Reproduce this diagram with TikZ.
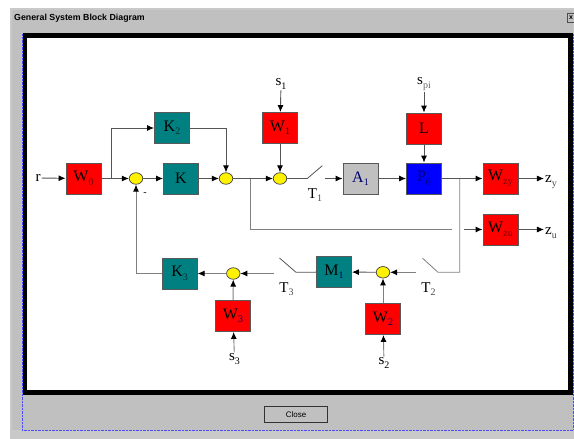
\documentclass[tikz,border=0pt]{standalone}
\usepackage{fontspec}
\setmainfont{Liberation Serif}
\newfontfamily\uifont{Liberation Sans}
\usetikzlibrary{arrows.meta,shapes.geometric}
\definecolor{wingray}{HTML}{C0C0C0}
\definecolor{tealbox}{HTML}{008080}
\definecolor{wirecol}{HTML}{555555}
\definecolor{navytxt}{HTML}{000070}
\definecolor{darkred}{HTML}{700000}
\newcommand{\mklb}[3][black]{{#2\raisebox{-3.5pt}{\fontsize{10}{10}\selectfont\textcolor{#1}{#3}}}}
\tikzset{
	block/.style={draw=black!65, line width=0.9pt, minimum width=35pt, minimum height=31pt, inner sep=0pt, font=\fontsize{16}{16}\selectfont},
	redblock/.style={block, fill=red},
	tealblock/.style={block, fill=tealbox},
	greyblock/.style={block, fill=wingray, text=navytxt},
	blueblock/.style={block, fill=blue, text=navytxt},
	sumnode/.style={ellipse, draw=black!75, fill=yellow, line width=0.7pt, minimum width=13.5pt, minimum height=11.5pt, inner sep=0pt},
	siglabel/.style={inner sep=1pt, font=\fontsize{15}{15}\selectfont},
	wire/.style={draw=wirecol, line width=0.9pt},
	sig/.style={wire, -{Latex[length=7pt,width=6pt,black]}},
	swarm/.style={wire, line width=0.8pt}
}
\begin{document}
\begin{tikzpicture}[x=1pt, y=-1pt]
\useasboundingbox (0,0) rectangle (574,439);
% okno
\fill[wingray!85!white] (10,8) rectangle (574,439);
\fill[wingray] (12,10) rectangle (572.5,430);
\draw[blue!70, densely dotted, line width=0.4pt] (22,34) -- (22,430) -- (573,430) -- (573,34);
\node[anchor=west, inner sep=0pt, font=\uifont\bfseries\fontsize{8.8}{9}\selectfont] (title) at (14,18) {General System Block Diagram};
\node[draw=black!70, fill=wingray, line width=0.8pt, minimum width=8pt, minimum height=9pt, inner sep=0pt, font=\uifont\bfseries\fontsize{7}{7}\selectfont] (closex) at (571,17.5) {x};
\draw[black, line width=4.6pt, fill=white] (25,35.5) rectangle (570.5,392.5);
\node[draw=black!80, fill=wingray, line width=1.2pt, minimum width=63pt, minimum height=16pt, inner sep=0pt, font=\uifont\fontsize{8}{8}\selectfont] (close) at (296,414.5) {Close};
% bloki
\node[redblock] (W0) at (83.5,178.5) {\mklb[darkred]{W}{0}};
\node[tealblock] (K2) at (172,128) {\mklb[black!60!tealbox]{K}{2}};
\node[tealblock] (K) at (181,178.5) {K};
\node[redblock] (W1) at (280,128) {\mklb{W}{1}};
\node[redblock] (L) at (424,128.5) {L};
\node[greyblock] (A1) at (360.5,178.5) {\mklb[navytxt]{A}{1}};
\node[blueblock] (P0) at (424,178.5) {\mklb[navytxt]{P}{0}};
\node[redblock] (Wzy) at (500.5,178.5) {\mklb[darkred]{W}{zy}};
\node[redblock] (Wzu) at (500.5,229.5) {\mklb[darkred]{W}{zu}};
\node[tealblock] (K3) at (179.7,273.5) {\mklb[black!60!tealbox]{K}{3}};
\node[redblock] (W3) at (233,316) {\mklb[navytxt]{W}{3}};
\node[tealblock] (M1) at (334,272) {\mklb[navytxt]{M}{1}};
\node[redblock] (W2) at (383,319) {\mklb[navytxt]{W}{2}};
% sumatory
\node[sumnode] (sum0) at (136,178.5) {};
\node[sumnode] (sum1) at (226,178.5) {};
\node[sumnode] (sum2) at (280,178.5) {};
\node[sumnode] (sum3) at (233.3,273.5) {};
\node[sumnode] (sum4) at (383,272.3) {};
% opisy
\node[siglabel] (r) at (38,178) {r};
\node[siglabel] (s1) at (281,84) {\mklb{s}{1}};
\node[siglabel] (spi) at (424,84) {\mklb[black!60]{s}{pi}};
\node[siglabel] (s3) at (234.5,359) {\mklb{s}{3}};
\node[siglabel] (s2) at (384,363) {\mklb{s}{2}};
\node[siglabel] (zy) at (551,182) {\mklb[black!70]{z}{y}};
\node[siglabel] (zu) at (551,233) {\mklb[black!70]{z}{u}};
\node[siglabel] (T1) at (315,195) {\mklb[black!70]{T}{1}};
\node[siglabel] (T3) at (286.5,289) {\mklb[black!70]{T}{3}};
\node[siglabel] (T2) at (428.5,289) {\mklb[black!70]{T}{2}};
\node[inner sep=0pt, font=\fontsize{10}{10}\selectfont] (minus) at (145,194) {-};
% punkty pomocnicze
\coordinate (brW) at (111,178.5);
\coordinate (brS) at (250,178.5);
\coordinate (brP) at (459.7,178.5);
\coordinate (t1a) at (307.3,178.5);
\coordinate (t1b) at (322.3,165.7);
\coordinate (t1c) at (324.7,178.5);
\coordinate (jmpa) at (451.7,229.5);
\coordinate (jmpb) at (464,229.5);
\coordinate (t2a) at (438,272.3);
\coordinate (t2b) at (422.3,258);
\coordinate (t2c) at (416,272.3);
\coordinate (t3a) at (296,272.3);
\coordinate (t3b) at (279.5,258);
\coordinate (t3c) at (274.3,273.5);
% gorna galaz
\draw[sig] (r) -- (W0);
\draw[sig] (W0) -- (sum0);
\draw[sig] (brW) |- (K2);
\draw[sig] (K2) -| (sum1);
\draw[sig] (sum0) -- (K);
\draw[sig] (K) -- (sum1);
\draw[sig] (sum1) -- (sum2);
\draw[sig] (s1) -- (W1);
\draw[sig] (W1) -- (sum2);
\draw[swarm] (sum2) -- (t1a) -- (t1b);
\draw[sig] (t1c) -- (A1);
\draw[sig] (A1) -- (P0);
\draw[sig] (spi) -- (L);
\draw[sig] (L) -- (P0);
\draw[sig] (P0) -- (Wzy);
\draw[sig] (Wzy) -- (zy.west |- Wzy);
\draw[sig] (Wzu) -- (zu.west |- Wzu);
% sprzezenia
\draw[wire, draw=black!50] (brS) |- (jmpa);
\draw[sig] (jmpb) -- (Wzu);
\draw[swarm, draw=black!50] (brP) |- (t2a) -- (t2b);
\draw[sig, draw=black!50] (t2c) -- (sum4);
\draw[sig] (sum4) -- (M1);
\draw[sig, draw=black!50] (s2) -- (W2);
\draw[sig, draw=black!50] (W2) -- (sum4);
\draw[swarm] (M1) -- (t3a) -- (t3b);
\draw[sig, draw=black!50] (t3c) -- (sum3);
\draw[sig, draw=black!50] (sum3) -- (K3);
\draw[sig, draw=black!50] (W3) -- (sum3);
\draw[sig, draw=black!50] (s3) -- (W3);
\draw[sig, draw=black!50] (K3) -| (sum0);
\end{tikzpicture}
\end{document}
